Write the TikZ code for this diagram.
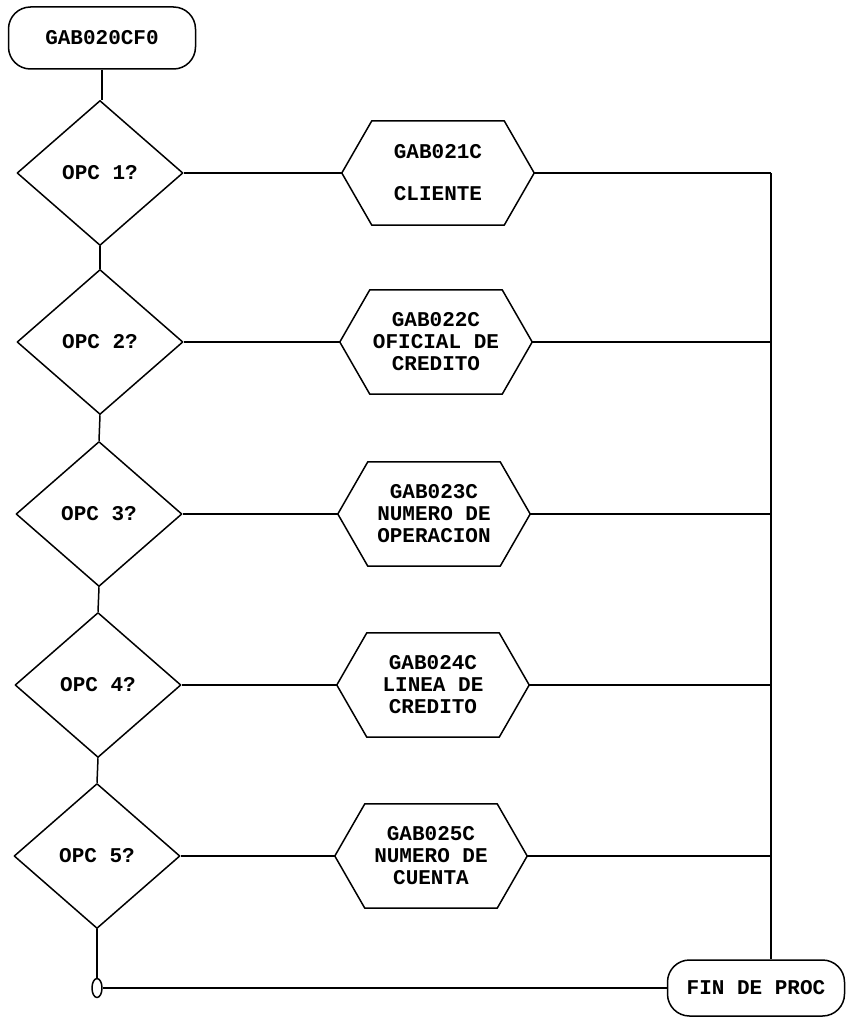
\documentclass[tikz,border=0pt]{standalone}
\usepackage{fontspec}
\newfontfamily\lblfont{Liberation Mono}
\usetikzlibrary{shapes.geometric}
\begin{document}
\begin{tikzpicture}[x=1pt,y=-1pt,
  every node/.style={font=\lblfont\bfseries\fontsize{21}{22}\selectfont, align=center, inner sep=0pt},
  ln/.style={line width=1.5pt, line join=round},
  term/.style={draw, ln, rectangle, rounded corners=22pt, minimum width=187pt, minimum height=62pt},
  decide/.style={draw, ln, diamond, minimum width=166pt, minimum height=145pt},
  hexbox/.style={minimum width=192pt, minimum height=104pt},
  joint/.style={draw, ln, ellipse, minimum width=10pt, minimum height=19pt}
]
\useasboundingbox (0,0) rectangle (848,1022);

\node[term] (start) at (102,38) {GAB020CF0};

\node[decide] (d1) at (100,173) {OPC 1?};
\node[decide] (d2) at (100,342) {OPC 2?};
\node[decide] (d3) at (99,514) {OPC 3?};
\node[decide] (d4) at (98,685) {OPC 4?};
\node[decide] (d5) at (97,856) {OPC 5?};

\node[hexbox] (h1) at (438,173) {GAB021C\\[20pt]CLIENTE};
\node[hexbox] (h2) at (436,342) {GAB022C\\OFICIAL DE\\CREDITO};
\node[hexbox] (h3) at (434,514) {GAB023C\\NUMERO DE\\OPERACION};
\node[hexbox] (h4) at (433,685) {GAB024C\\LINEA DE\\CREDITO};
\node[hexbox] (h5) at (431,856) {GAB025C\\NUMERO DE\\CUENTA};

\foreach \n in {h1,h2,h3,h4,h5}
  \draw[ln] ([xshift=30pt]\n.north west) -- ([xshift=-30pt]\n.north east) -- (\n.east)
    -- ([xshift=-30pt]\n.south east) -- ([xshift=30pt]\n.south west) -- (\n.west) -- cycle;

\node[term, minimum width=177pt, minimum height=56pt] (fin) at (756,988) {FIN DE PROC};
\node[joint] (o) at (97,988) {};

\coordinate (j1) at (771,173);
\coordinate (j2) at (771,342);
\coordinate (j3) at (771,514);
\coordinate (j4) at (771,685);
\coordinate (j5) at (771,856);

\draw[ln] (start.south) -- (start.south |- d1.north);
\draw[ln] (d1.south) -- (d2.north);
\draw[ln] (d2.south) -- (d3.north);
\draw[ln] (d3.south) -- (d4.north);
\draw[ln] (d4.south) -- (d5.north);
\draw[ln] (d5.south) -- (o.north);
\draw[ln] (o.east) -- (fin.west);

\draw[ln] (d1.east) -- (h1.west);
\draw[ln] (d2.east) -- (h2.west);
\draw[ln] (d3.east) -- (h3.west);
\draw[ln] (d4.east) -- (h4.west);
\draw[ln] (d5.east) -- (h5.west);

\draw[ln] (h1.east) -- (j1);
\draw[ln] (h2.east) -- (j2);
\draw[ln] (h3.east) -- (j3);
\draw[ln] (h4.east) -- (j4);
\draw[ln] (h5.east) -- (j5);
\draw[ln] (j1) -- (j1 |- fin.north);
\end{tikzpicture}
\end{document}
